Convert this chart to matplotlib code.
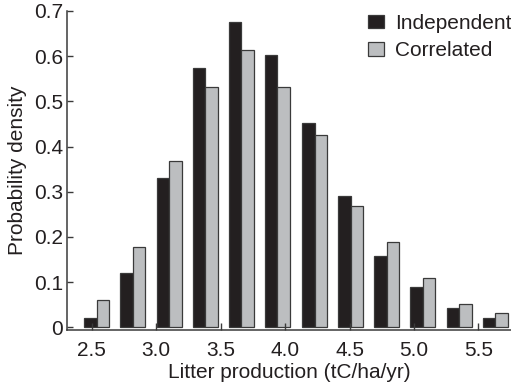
import matplotlib
matplotlib.use("Agg")
import matplotlib.pyplot as plt
import numpy as np

plt.rcParams['font.family'] = ['Liberation Sans', 'DejaVu Sans']

# bin centres (tC/ha/yr) and densities
bin_centers = [2.54, 2.82, 3.10, 3.38, 3.66, 3.94, 4.23, 4.51, 4.79, 5.07, 5.35, 5.63]
independent = [0.021, 0.121, 0.330, 0.573, 0.675, 0.602, 0.452, 0.290, 0.157, 0.089, 0.043, 0.021]
correlated = [0.061, 0.177, 0.368, 0.531, 0.613, 0.531, 0.426, 0.269, 0.189, 0.110, 0.052, 0.031]
xticks = [2.5, 3.0, 3.5, 4.0, 4.5, 5.0, 5.5]
yticks = [0, 0.1, 0.2, 0.3, 0.4, 0.5, 0.6, 0.7]

dark = '#231f20'
gray = '#bcbec0'
edge = '#3a3a3a'
fs = 15

fig = plt.figure(figsize=(5.11, 3.85), dpi=100)
ax = fig.add_axes([67 / 511, 55 / 385, 1 - 67 / 511, 319 / 385])

x = np.array(bin_centers)
w = 0.097
ax.bar(x - w / 2, independent, width=w, color=dark, edgecolor=edge, linewidth=0.9, label='Independent')
ax.bar(x + w / 2, correlated, width=w, color=gray, edgecolor=edge, linewidth=0.9, label='Correlated')

ax.set_xlim(2.308, 5.753)
ax.set_ylim(-0.006, 0.7)
ax.set_xticks(xticks)
ax.set_xticklabels(['%.1f' % t for t in xticks])
ax.set_yticks(yticks)
ax.set_yticklabels(['0'] + ['%.1f' % t for t in yticks[1:]])

for s in ['top', 'right']:
    ax.spines[s].set_visible(False)
for s in ['left', 'bottom']:
    ax.spines[s].set_color(edge)
    ax.spines[s].set_linewidth(1.1)

ax.tick_params(axis='y', direction='in', length=4, width=1, color=edge,
               labelsize=fs, labelcolor=dark, pad=3)
ax.tick_params(axis='x', direction='in', length=5, width=1, color=edge,
               labelsize=fs, labelcolor=dark, pad=8)

ax.set_xlabel('Litter production (tC/ha/yr)', fontsize=fs, color=dark, labelpad=2)
ax.set_ylabel('Probability density', fontsize=fs, color=dark, labelpad=5)

ax.legend(loc='upper left', bbox_to_anchor=(368 / 511, 1 - 14 / 385),
          bbox_transform=fig.transFigure, frameon=False, fontsize=fs,
          borderpad=0, borderaxespad=0, handlelength=0.75, handleheight=0.6,
          handletextpad=0.55, labelspacing=0.4, labelcolor=dark)

plt.savefig('out.png', dpi=100)
plt.close()
